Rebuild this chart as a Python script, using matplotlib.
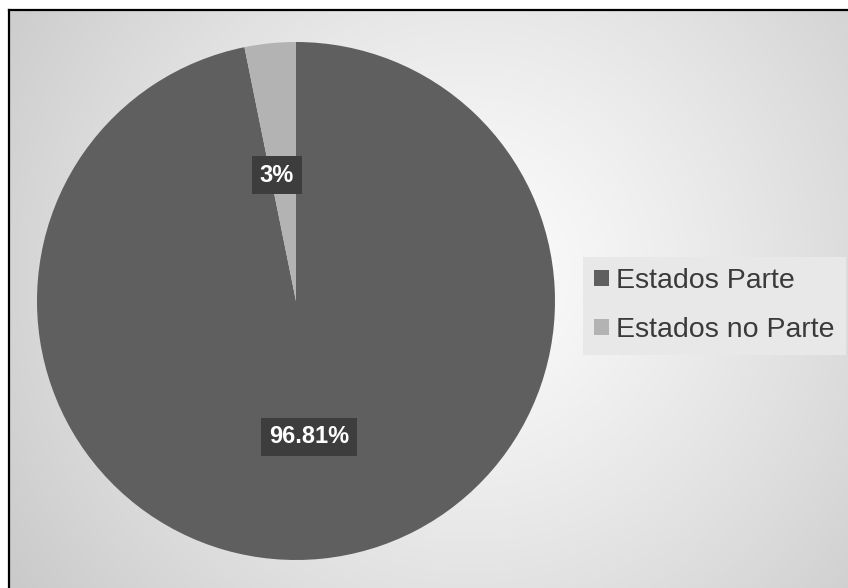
import matplotlib
matplotlib.use('Agg')
import matplotlib.pyplot as plt
import numpy as np
from matplotlib.patches import Patch

# datos
categorias = ['Estados Parte', 'Estados no Parte']
valores = [96.81, 3.19]
etiquetas = ['96.81%', '3%']
colores = ['#5f5f5f', '#b3b3b3']

W, H = 848, 588
fig = plt.figure(figsize=(W / 100, H / 100), dpi=100)
fig.patch.set_facecolor('white')

# fondo con degradado radial (el marco empieza en x=9, y=10)
x0, ytop = 9, 10
bg = fig.add_axes([x0 / W, 0, 1 - x0 / W, 1 - ytop / H])
bw, bh = W - x0, H - ytop
xx, yy = np.meshgrid(np.linspace(0, 1, bw), np.linspace(0, 1, bh))
cx, cy = 0.55, 0.45
d = np.sqrt((xx - cx) ** 2 + ((yy - cy) * bh / bw) ** 2)
d = d / d.max()
g = 0.99 - 0.20 * d ** 1.2
bg.imshow(np.dstack([g, g, g]), aspect='auto', extent=(0, 1, 0, 1), origin='upper')
bg.set_xlim(0, 1)
bg.set_ylim(0, 1)
bg.axis('off')

# borde negro (izquierda y arriba)
fig.add_artist(plt.Line2D([x0 / W, x0 / W], [0, 1 - ytop / H], color='black', lw=1.6))
fig.add_artist(plt.Line2D([x0 / W, 1], [1 - ytop / H, 1 - ytop / H], color='black', lw=1.6))

# pastel
pcx, pcy, r = 296, 301, 259
ax = fig.add_axes([(pcx - r) / W, (H - pcy - r) / H, 2 * r / W, 2 * r / H])
ax.set_facecolor('none')
wedges, _ = ax.pie(valores, colors=colores, startangle=90, counterclock=False,
                   radius=1, wedgeprops=dict(linewidth=0))
ax.set_xlim(-1, 1)
ax.set_ylim(-1, 1)
ax.set_aspect('equal')
ax.axis('off')

# etiquetas de datos (posición en píxeles de la imagen)
pos_px = [(309, 437), (277, 175)]
for (px, py), txt in zip(pos_px, etiquetas):
    ax.text((px - pcx) / r, -(py - pcy) / r, txt, ha='center', va='center',
            color='white', fontsize=17, fontweight='bold', family='Liberation Sans',
            bbox=dict(boxstyle='square,pad=0.33', facecolor='#3d3d3d', edgecolor='none'))

# leyenda
handles = [Patch(facecolor=c, edgecolor='none') for c in colores]
leg = fig.legend(handles, categorias, loc='upper left',
                 bbox_to_anchor=(583 / W, 1 - 257 / H),
                 prop={'family': 'Liberation Sans', 'size': 20.5},
                 handlelength=0.5, handleheight=0.5, handletextpad=0.25,
                 labelspacing=0.8, borderpad=0.4, borderaxespad=0,
                 fancybox=False, frameon=True)
leg.get_frame().set_facecolor('#e8e8e8')
leg.get_frame().set_edgecolor('none')
leg.get_frame().set_alpha(1)
for t in leg.get_texts():
    t.set_color('#3a3a3a')

fig.savefig('out.png', dpi=100)
